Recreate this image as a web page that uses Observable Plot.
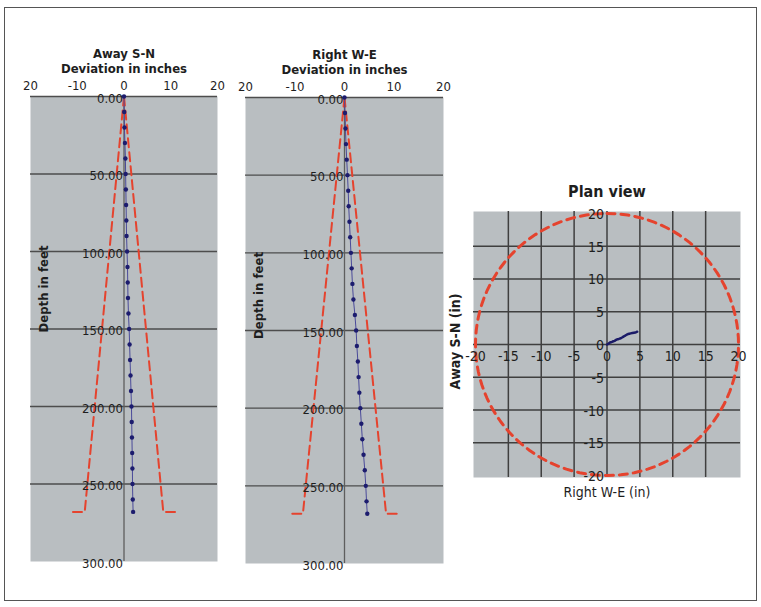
<!DOCTYPE html>
<html><head><meta charset="utf-8">
<script src="https://cdn.jsdelivr.net/npm/d3@7"></script>
<script src="https://cdn.jsdelivr.net/npm/@observablehq/plot@0.6"></script>
<style>
body{margin:0;background:#fff;}
#wrap{position:relative;width:761px;height:607px;overflow:hidden;}
#frame{position:absolute;left:4px;top:7px;width:753px;height:594px;border:1.5px solid #555;box-sizing:border-box;}
#wrap svg{position:absolute;left:0;top:0;}
</style></head><body><div id="wrap"><div id="frame"></div></div>
<script>
// ---- data ----
const depths   = [0,10,20,30,40,50,60,70,80,90,100,110,120,130,140,150,160,170,180,190,200,210,220,230,240,250,260,268];
const awaySN   = [0,0.05,0.1,0.2,0.3,0.35,0.4,0.45,0.5,0.55,0.65,0.75,0.8,0.85,0.95,1.1,1.2,1.3,1.4,1.5,1.6,1.65,1.7,1.75,1.8,1.82,1.88,1.95];
const rightWE  = [0,0.1,0.2,0.3,0.45,0.6,0.75,0.85,1.0,1.15,1.3,1.45,1.6,1.8,2.1,2.35,2.5,2.7,2.85,3.0,3.2,3.4,3.6,3.85,4.1,4.3,4.45,4.6];
const depthTicks      = [0,50,100,150,200,250,300];
const depthTickLabels = ["0.00","50.00","100.00","150.00","200.00","250.00","300.00"];
const devTicks        = [-20,-10,0,10,20];
const devTickLabels   = ["20","-10","0","10","20"];
const tolDepth        = [0,268,268];
const tolHalfWidth    = [0,8.4,11.3];
const planTicks       = [-20,-15,-10,-5,0,5,10,15,20];
const planGrid        = [-15,-10,-5,0,5,10,15];
const planRadius      = 20;

const FONT = '"Liberation Sans Narrow","DejaVu Sans Condensed","Roboto Condensed",sans-serif';
const INK = "#1e1e1e";
const GRAY = "#b9bec1";
const RED = "#e5432e";
const W = 761, H = 607;
const wrap = document.getElementById("wrap");

function depthPanel({title, values, left, right, top, bottom, depthLabelDx, depthLabelDy}) {
  const rows = depths.map((d,i)=>({depth:d, dev:values[i]}));
  const tolL = tolDepth.map((d,i)=>({depth:d, dev:-tolHalfWidth[i]}));
  const tolR = tolDepth.map((d,i)=>({depth:d, dev: tolHalfWidth[i]}));
  return Plot.plot({
    width: W, height: H,
    marginLeft: left, marginRight: W-right, marginTop: top, marginBottom: H-bottom,
    x: {domain:[-20,20], axis:null},
    y: {domain:[0,300], reverse:true, axis:null},
    style: {background:"transparent", fontFamily: FONT, overflow:"visible"},
    marks: [
      Plot.frame({fill:GRAY, stroke:null}),
      Plot.ruleY(depthTicks.slice(0,-1), {stroke:"#4d4d4d", strokeWidth:1.3}),
      Plot.ruleX([0], {stroke:"#5e5e5e", strokeWidth:1.3}),
      Plot.line(tolL, {x:"dev", y:"depth", stroke:RED, strokeWidth:2, strokeDasharray:"9,5"}),
      Plot.line(tolR, {x:"dev", y:"depth", stroke:RED, strokeWidth:2, strokeDasharray:"9,5"}),
      Plot.line(rows, {x:"dev", y:"depth", stroke:"#4a4a9a", strokeWidth:1}),
      Plot.dot(rows, {x:"dev", y:"depth", r:2.2, fill:"#1c1c6e", stroke:null}),
      Plot.text(depthTicks, {x:0, y:d=>d, text:(d,i)=>depthTickLabels[i], textAnchor:"end", dx:-1, dy:2, fontSize:13, fill:INK}),
      Plot.text(devTicks, {x:d=>d, y:0, text:(d,i)=>devTickLabels[i], dy:-11, fontSize:13, fill:INK}),
      Plot.text([title], {frameAnchor:"top", dy:-48, fontSize:13, fontWeight:"bold", fill:INK}),
      Plot.text(["Deviation in inches"], {frameAnchor:"top", dy:-33, fontSize:13, fontWeight:"bold", fill:INK}),
      Plot.text(["Depth in feet"], {frameAnchor:"left", textAnchor:"middle", rotate:-90, dx:depthLabelDx, dy:depthLabelDy, fontSize:13, fontWeight:"bold", fill:INK})
    ]
  });
}

wrap.appendChild(depthPanel({title:"Away S-N", values:awaySN, left:30, right:217, top:96, bottom:561, depthLabelDx:13, depthLabelDy:-40}));
wrap.appendChild(depthPanel({title:"Right W-E", values:rightWE, left:245, right:443, top:97, bottom:563, depthLabelDx:13, depthLabelDy:-35}));

// plan view
const path = depths.map((d,i)=>({we:rightWE[i], sn:awaySN[i]}));
const circle = d3.range(0, 361, 3).map(a => ({we: planRadius*Math.sin(a*Math.PI/180), sn: planRadius*Math.cos(a*Math.PI/180)}));
const lim = 20.3;
wrap.appendChild(Plot.plot({
  width: W, height: H,
  marginLeft: 473, marginRight: W-740, marginTop: 211, marginBottom: H-477,
  x: {domain:[-lim, lim], axis:null},
  y: {domain:[-lim, lim], axis:null},
  style: {background:"transparent", fontFamily: FONT, overflow:"visible"},
  marks: [
    Plot.frame({fill:GRAY, stroke:null}),
    Plot.ruleX(planGrid, {stroke:"#3f3f3f", strokeWidth:1.5}),
    Plot.ruleY(planGrid, {stroke:"#3f3f3f", strokeWidth:1.5}),
    Plot.line(circle, {x:"we", y:"sn", stroke:RED, strokeWidth:3, strokeDasharray:"8,6"}),
    Plot.line(path, {x:"we", y:"sn", stroke:"#1b1b68", strokeWidth:2.5}),
    Plot.text(planTicks, {x:d=>d, y:0, text:d=>String(d), dy:12, fontSize:14, fill:INK}),
    Plot.text(planTicks, {x:0, y:d=>d, text:d=>String(d), textAnchor:"end", dx:-3, dy:1, fontSize:14, fill:INK}),
    Plot.text(["Plan view"], {frameAnchor:"top", dy:-26, fontSize:16, fontWeight:"bold", fill:INK}),
    Plot.text(["Right W-E (in)"], {frameAnchor:"bottom", dy:19, fontSize:14, fill:INK}),
    Plot.text(["Away S-N (in)"], {frameAnchor:"left", textAnchor:"middle", rotate:-90, dx:-18, dy:-3, fontSize:14, fontWeight:"bold", fill:INK})
  ]
}));
</script></body></html>
